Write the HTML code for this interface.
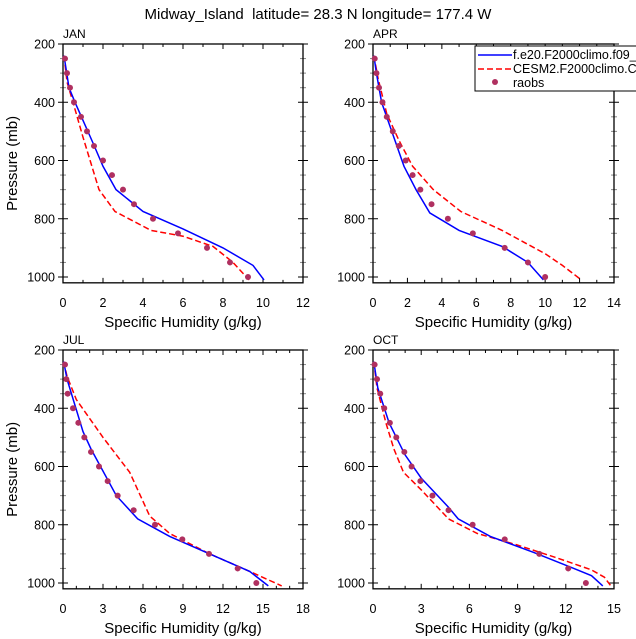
<!DOCTYPE html>
<html><head><meta charset="utf-8"><style>
body{margin:0;background:#fff;}
svg{display:block;font-family:"Liberation Sans",Arial,sans-serif;}
</style></head><body>
<svg id="c" width="636" height="639" xmlns="http://www.w3.org/2000/svg">
<text x="318" y="19" text-anchor="middle" font-size="15" xml:space="preserve">Midway_Island  latitude= 28.3 N longitude= 177.4 W</text>
</svg>
<script>
const levels=[250,300,350,400,450,500,550,600,650,700,750,800,850,900,950,1000];
const janObs=[0.1,0.2,0.35,0.55,0.9,1.2,1.55,2.0,2.45,3.0,3.55,4.5,5.75,7.2,8.35,9.25];
const janBlueQ=[0.05,0.3,0.6,1.5,2,2.65,4,6,8,9.5,10.05];
const janBlueP=[240,350,400,540,620,700,775,835,900,960,1010];
const janRedQ=[0.05,0.2,0.5,1,1.8,2.6,4.4,6,7.5,8.5,9.3];
const janRedP=[240,330,400,520,700,775,840,860,895,950,1010];
const aprObs=[0.1,0.2,0.35,0.55,0.8,1.15,1.5,1.9,2.3,2.75,3.4,4.35,5.8,7.65,9.0,10.0];
const aprBlueQ=[0.05,0.2,0.5,1.8,2.5,3.3,5,7.5,9,9.9];
const aprBlueP=[240,300,400,620,700,780,840,895,950,1010];
const aprRedQ=[0.05,0.3,0.8,1.5,2.3,3.5,5.1,7.5,10,11,12.1];
const aprRedP=[240,320,440,530,620,700,775,840,920,960,1010];
const julObs=[0.15,0.25,0.35,0.75,1.15,1.6,2.1,2.7,3.35,4.1,5.3,6.9,8.95,10.95,13.1,14.5];
const julBlueQ=[0.05,0.3,1.5,2.1,4,5.6,8,11,14,15.4];
const julBlueP=[240,300,480,540,700,780,840,900,960,1010];
const julRedQ=[0.05,0.3,1,3,5,6.5,8,11,14,16.4];
const julRedP=[240,290,370,500,620,770,830,900,960,1010];
const octObs=[0.1,0.25,0.45,0.7,1.05,1.45,1.95,2.4,2.95,3.7,4.7,6.2,8.2,10.35,12.15,13.25];
const octBlueQ=[0.05,0.3,1,2,3,4.7,5.3,7.3,10,12.5,13.6,14.3];
const octBlueP=[240,330,450,560,640,740,780,840,895,950,975,1010];
const octRedQ=[0.05,0.25,0.8,1.3,1.9,3,4.7,6.5,9,11.5,13.6,14.4,14.8];
const octRedP=[240,330,450,540,620,680,780,830,870,915,955,980,1010];
const yTicks=[200,400,600,800,1000];

const NS="http://www.w3.org/2000/svg";
const svg=document.getElementById('c');
function mk(t,a,parent){const e=document.createElementNS(NS,t);for(const k in a)e.setAttribute(k,a[k]);(parent||svg).appendChild(e);return e;}

const panels=[
 {name:'jan',label:'JAN',x0:63,x1:303,top:44,xmax:12,xstep:2,xminor:1,obs:janObs,bq:janBlueQ,bp:janBlueP,rq:janRedQ,rp:janRedP,ylab:true},
 {name:'apr',label:'APR',x0:373,x1:614,top:44,xmax:14,xstep:2,xminor:1,obs:aprObs,bq:aprBlueQ,bp:aprBlueP,rq:aprRedQ,rp:aprRedP,ylab:false},
 {name:'jul',label:'JUL',x0:63,x1:303,top:350,xmax:18,xstep:3,xminor:1,obs:julObs,bq:julBlueQ,bp:julBlueP,rq:julRedQ,rp:julRedP,ylab:true},
 {name:'oct',label:'OCT',x0:373,x1:614,top:350,xmax:15,xstep:3,xminor:1,obs:octObs,bq:octBlueQ,bp:octBlueP,rq:octRedQ,rp:octRedP,ylab:false}
];
panels.forEach(p=>{
 const g=mk('g',{});
 
 
 const sy=233/800;
 const Y=v=>p.top+(v-200)*sy;
 const X=v=>p.x0+v*(p.x1-p.x0)/p.xmax;
 const bot=Y(1020);
 const lab=mk('text',{x:p.x0,y:p.top-6,'font-size':12},g);lab.textContent=p.label;
 
 for(let v=200;v<=1000;v+=50){const maj=v%200===0;const L=maj?5:3;
  mk('line',{x1:p.x0-L,x2:p.x0+L,y1:Y(v),y2:Y(v),stroke:maj?'#000':'#888','stroke-width':1},g);
  mk('line',{x1:p.x1-L,x2:p.x1+L,y1:Y(v),y2:Y(v),stroke:maj?'#000':'#888','stroke-width':1},g);}
 yTicks.forEach(v=>{const t=mk('text',{x:p.x0-8,y:Y(v)+4.5,'text-anchor':'end','font-size':12.5},g);t.textContent=v;
  });
 for(let v=0;v<=p.xmax;v+=p.xminor){const maj=v%p.xstep===0;const L=maj?5:3;
  mk('line',{x1:X(v),x2:X(v),y1:bot,y2:bot-L,stroke:'#000'},g);
  mk('line',{x1:X(v),x2:X(v),y1:p.top,y2:p.top+L,stroke:'#000'},g);
  if(maj){const t=mk('text',{x:X(v),y:bot+24,'text-anchor':'middle','font-size':12.5},g);t.textContent=v;
   }}
 const fr=mk('rect',{x:p.x0,y:p.top,width:p.x1-p.x0,height:bot-p.top,fill:'none',stroke:'#000','stroke-width':1.3},g);
 
 const xl=mk('text',{x:(p.x0+p.x1)/2,y:bot+44,'text-anchor':'middle','font-size':15},g);xl.textContent='Specific Humidity (g/kg)';
 
 if(p.ylab){const cy=(p.top+bot)/2;const yl=mk('text',{x:17,y:cy,'text-anchor':'middle','font-size':15,transform:`rotate(-90 17 ${cy})`},g);yl.textContent='Pressure (mb)';
  }
 const pts=(q,pr)=>q.map((v,i)=>X(v).toFixed(1)+','+Y(pr[i]).toFixed(1)).join(' ');
 const r=mk('polyline',{points:pts(p.rq,p.rp),fill:'none',stroke:'#f00','stroke-width':1.5,'stroke-dasharray':'6,3'},g);
 
 const b=mk('polyline',{points:pts(p.bq,p.bp),fill:'none',stroke:'#00f','stroke-width':1.5},g);
 
 p.obs.forEach((v,i)=>{const c=mk('circle',{cx:X(v),cy:Y(levels[i]),r:3,fill:'#b03060'},g);
  });
});
const lg=mk('g',{});


mk('rect',{x:475,y:46,width:170,height:45,fill:'#fff',stroke:'#000','stroke-width':1},lg);
mk('line',{x1:478,x2:512,y1:55,y2:55,stroke:'#00f','stroke-width':1.5},lg);
mk('line',{x1:478,x2:512,y1:69,y2:69,stroke:'#f00','stroke-width':1.5,'stroke-dasharray':'6,3'},lg);
mk('circle',{cx:495,cy:82,r:3,fill:'#b03060'},lg);
[['f.e20.F2000climo.f09_',59],['CESM2.F2000climo.C',73],['raobs',87]].forEach(([t,y])=>{const e=mk('text',{x:513,y:y,'font-size':12.5},lg);e.textContent=t;
 });
</script>
</body></html>
